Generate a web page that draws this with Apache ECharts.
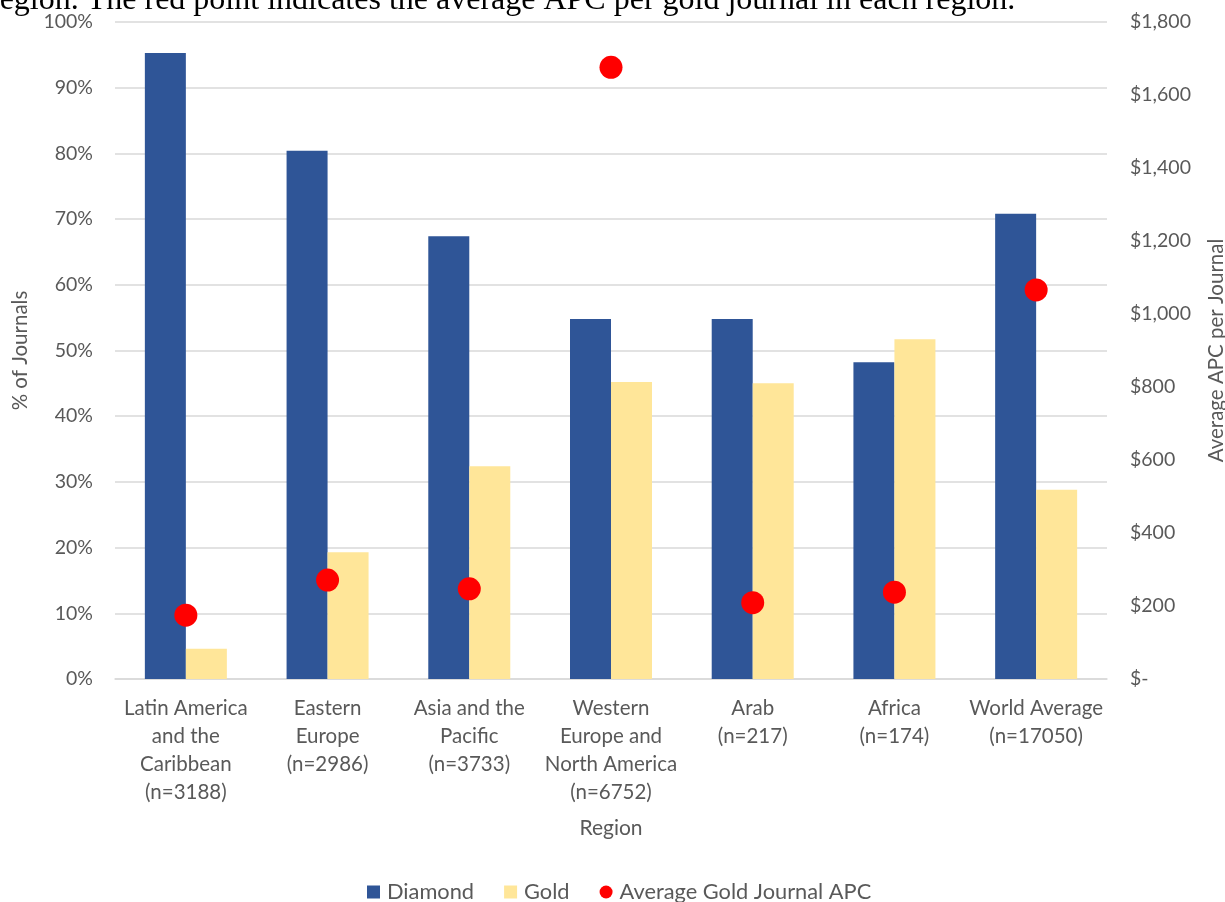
<!DOCTYPE html>
<html>
<head>
<meta charset="utf-8">
<script src="https://cdn.jsdelivr.net/npm/echarts@6/dist/echarts.min.js"></script>
<style>
  html, body { margin: 0; padding: 0; background: #fff; }
  #chart { width: 1225px; height: 902px; }
</style>
</head>
<body>
<div id="chart"></div>
<script>
// Regions (with number of journals per region)
const regions = [
  'Latin America\nand the\nCaribbean\n(n=3188)',
  'Eastern\nEurope\n(n=2986)',
  'Asia and the\nPacific\n(n=3733)',
  'Western\nEurope and\nNorth America\n(n=6752)',
  'Arab\n(n=217)',
  'Africa\n(n=174)',
  'World Average\n(n=17050)'
];

// Share of journals per region (%)
const diamondPct = [95.3, 80.4, 67.4, 54.8, 54.8, 48.2, 70.8];
const goldPct = [4.6, 19.3, 32.4, 45.2, 45.0, 51.7, 28.8];

// Average APC per gold journal (USD)
const goldApc = [175, 271, 247, 1676, 209, 238, 1066];

const captionText = 'region. The red point indicates the average APC per gold journal in each region.';

const FONT = 'Lato, "Open Sans", sans-serif';
const TEXT_COLOR = '#595959';
const GRID_COLOR = '#D9D9D9';

function money(v) {
  if (v === 0) return '$-';
  return '$' + v.toLocaleString('en-US');
}

const chart = echarts.init(document.getElementById('chart'), null, { renderer: 'canvas' });

chart.setOption({
  backgroundColor: '#ffffff',
  animation: false,
  textStyle: { fontFamily: FONT, color: TEXT_COLOR },
  grid: { left: 115, right: 118, top: 22, bottom: 223, containLabel: false, outerBoundsMode: 'none' },
  graphic: [{
    type: 'text',
    left: -11,
    top: -15,
    style: {
      text: captionText,
      font: '32px "Liberation Serif", "Times New Roman", serif',
      fill: '#000000'
    }
  }],
  legend: {
    top: 876,
    left: 362,
    itemWidth: 13,
    itemHeight: 13,
    itemGap: 30,
    textStyle: { fontFamily: FONT, fontSize: 21.8, color: TEXT_COLOR, padding: [0, 0, 0, 2] },
    data: [
      { name: 'Diamond', icon: 'rect' },
      { name: 'Gold', icon: 'rect' },
      { name: 'Average Gold Journal APC', icon: 'circle' }
    ]
  },
  xAxis: {
    type: 'category',
    data: regions,
    name: 'Region',
    nameLocation: 'middle',
    nameGap: 139,
    nameTextStyle: { fontFamily: FONT, fontSize: 21, color: TEXT_COLOR },
    axisLine: { show: true, lineStyle: { color: GRID_COLOR, width: 1.5 } },
    axisTick: { show: false },
    axisLabel: {
      interval: 0,
      margin: 15,
      fontFamily: FONT,
      fontSize: 20.5,
      lineHeight: 28,
      color: TEXT_COLOR,
      align: 'center',
      verticalAlign: 'top'
    }
  },
  yAxis: [{
    type: 'value',
    min: 0,
    max: 100,
    interval: 10,
    name: '% of Journals',
    nameLocation: 'middle',
    nameRotate: 90,
    nameGap: 84,
    nameTextStyle: { fontFamily: FONT, fontSize: 20.5, color: TEXT_COLOR },
    axisLine: { show: false },
    axisTick: { show: false },
    splitLine: { show: true, lineStyle: { color: GRID_COLOR, width: 1.5 } },
    axisLabel: {
      margin: 22,
      fontFamily: FONT,
      fontSize: 19.5,
      color: TEXT_COLOR,
      formatter: v => v + '%'
    }
  }, {
    type: 'value',
    min: 0,
    max: 1800,
    interval: 200,
    name: 'Average APC per Journal',
    nameLocation: 'middle',
    nameRotate: 90,
    nameGap: 99,
    nameTextStyle: { fontFamily: FONT, fontSize: 20.5, color: TEXT_COLOR },
    axisLine: { show: false },
    axisTick: { show: false },
    splitLine: { show: false },
    axisLabel: {
      margin: 23,
      fontFamily: FONT,
      fontSize: 19.5,
      color: TEXT_COLOR,
      formatter: money
    }
  }],
  series: [{
    name: 'Diamond',
    type: 'bar',
    data: diamondPct,
    barWidth: 41,
    barGap: '0%',
    itemStyle: { color: '#2F5597' }
  }, {
    name: 'Gold',
    type: 'bar',
    data: goldPct,
    barWidth: 41,
    barGap: '0%',
    itemStyle: { color: '#FFE699' }
  }, {
    name: 'Average Gold Journal APC',
    type: 'scatter',
    yAxisIndex: 1,
    data: goldApc,
    symbol: 'circle',
    symbolSize: 23,
    itemStyle: { color: '#FF0000', opacity: 1 },
    z: 5
  }]
});
</script>
</body>
</html>
